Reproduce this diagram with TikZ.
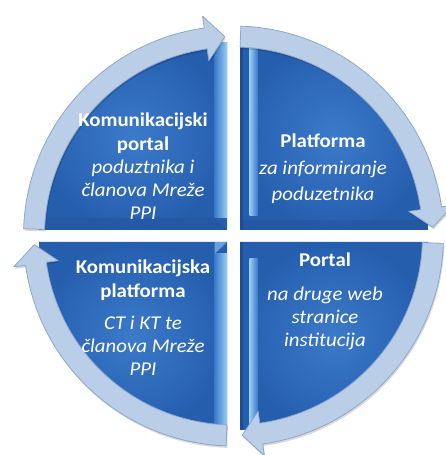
\documentclass[tikz,border=0pt]{standalone}
\usepackage{fontspec}
\setmainfont{Carlito}[FakeStretch=1.07]
\definecolor{quadin}{RGB}{60,122,202}
\definecolor{quadout}{RGB}{38,94,174}
\definecolor{quaddark}{RGB}{30,78,150}
\definecolor{bevel}{RGB}{150,205,245}
\definecolor{ringfill}{RGB}{187,206,231}
\definecolor{ringedge}{RGB}{140,168,205}
\tikzset{
  quad/.style={inner color=quadin,outer color=quadout},
  ringarr/.style={fill=ringfill,draw=ringedge,line width=0.8pt,line join=round,
    preaction={fill=black,opacity=0.15,transform canvas={shift={(1pt,-2pt)}}}},
  txt/.style={text=white,align=center,inner sep=0pt,
    font=\fontsize{19.5}{23.3}\selectfont},
}
\begin{document}
\begin{tikzpicture}[x=1pt,y=1pt]
      \useasboundingbox (-233.5,-219) rectangle (212.5,236);%

      % quadrants
      \foreach \cx/\cy/\a in {-6.5/6/90, 6.5/6/0, 6.5/-6/-90, -6.5/-6/180}{%
        \shade[quad] (\cx,\cy) -- ++(\a:188) arc[start angle=\a, end angle=\a+90, radius=188] -- cycle;%
      }

      % bevel strips
      \begin{scope}
        \clip (-6.5,6) -- ++(90:188) arc[start angle=90, end angle=180, radius=188] -- cycle;%
        \shade[left color=quadin,right color=bevel] (-19,18) rectangle (-6.5,200);%
        \fill[quaddark,opacity=0.35] (-6.5,6) -- (-19,18) -- (-200,18) -- (-200,6) -- cycle;%
      \end{scope}
      \begin{scope}
        \clip (6.5,6) -- ++(0:188) arc[start angle=0, end angle=90, radius=188] -- cycle;%
        \fill[quaddark] (6.5,6) rectangle (9.5,200);%
        \shade[left color=bevel,right color=quadin] (16,20) rectangle (24,200);%
        \fill[quaddark,opacity=0.35] (6.5,6) rectangle (200,16);%
      \end{scope}
      \begin{scope}
        \clip (6.5,-6) -- ++(-90:188) arc[start angle=-90, end angle=0, radius=188] -- cycle;%
        \fill[quaddark] (6.5,-6) rectangle (9.5,-200);%
        \shade[left color=bevel,right color=quadin] (16,-22) rectangle (24,-200);%
      \end{scope}
      \begin{scope}
        \clip (-6.5,-6) -- ++(180:188) arc[start angle=180, end angle=270, radius=188] -- cycle;%
        \shade[left color=quadin,right color=bevel] (-19,-18) rectangle (-6.5,-200);%
        \fill[bevel,opacity=0.6] (-6.5,-6) -- (-19,-18) -- (-19,-6) -- cycle;%
      \end{scope}

      % ring of arrows
      \foreach \s in {180,90,0,-90}{%
        \pgfmathsetmacro\ta{\s-2}%
        \pgfmathsetmacro\tb{\s-82}%
        \pgfmathsetmacro\tc{\s-87.5}%
        \draw[ringarr] (\ta:189) arc[start angle=\ta, end angle=\tb, radius=189]
          -- (\tb:177) -- (\tc:199.5) -- (\tb:222) -- (\tb:210)
          arc[start angle=\tb, end angle=\ta, radius=210] -- cycle;%
      }

      % texts
      \node[txt] (KP) at (-90.5,69.5) {\textbf{Komunikacijski}\\\textbf{portal}\\\textit{poduztnika i}\\\textit{članova Mreže}\\\textit{PPI}};%
      \node[txt] (PF) at (89.5,67) {\textbf{Platforma}\\[3pt]\textit{za informiranje}\\[3pt]\textit{poduzetnika}};%
      \node[txt] (PO) at (91.5,-65.5) {\textbf{Portal}\\[10pt]\textit{na druge web}\\\textit{stranice}\\\textit{institucija}};%
      \node[txt] (KF) at (-90.5,-82) {\textbf{Komunikacijska}\\\textbf{platforma}\\[9pt]\textit{CT i KT te}\\\textit{članova Mreže}\\\textit{PPI}};%
\end{tikzpicture}
\end{document}
